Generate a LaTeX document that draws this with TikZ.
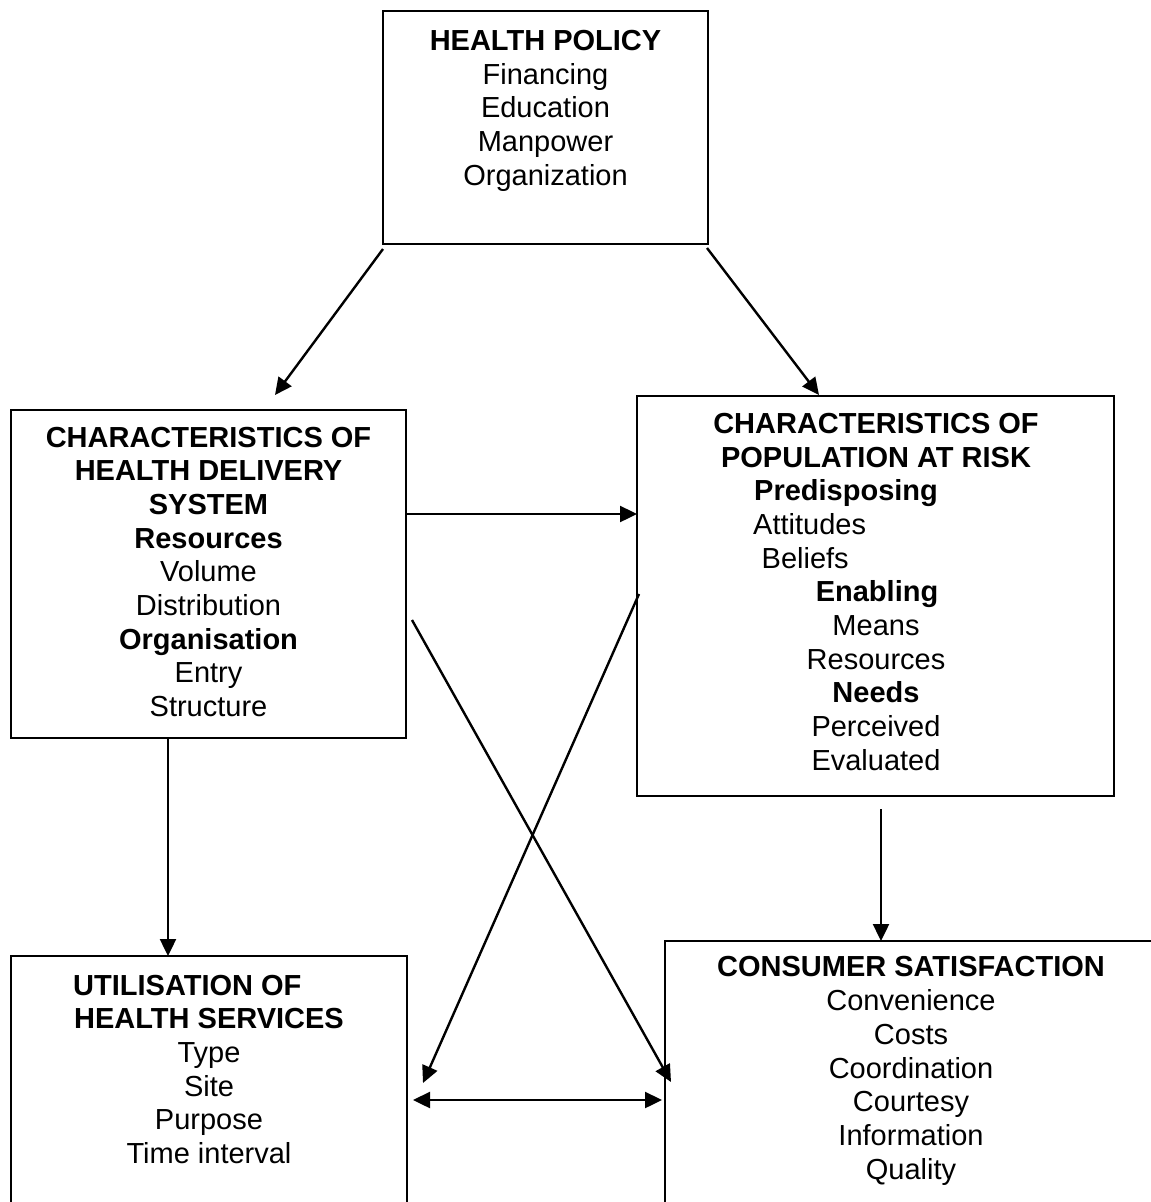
\documentclass[tikz,border=0pt]{standalone}
\usepackage{fontspec}
\setmainfont{Liberation Sans}
\usetikzlibrary{arrows.meta}
\begin{document}
\begin{tikzpicture}[x=1pt,y=-1pt,
  box/.style={draw, line width=2.2pt, inner sep=0pt, outer sep=0pt, rectangle},
  conn/.style={line width=2.4pt, -{Triangle[length=17pt,width=16pt]}},
  dconn/.style={line width=2.4pt, {Triangle[length=17pt,width=16pt]}-{Triangle[length=17pt,width=16pt]}},
  txt/.style={font=\fontsize{29}{34}\selectfont, inner sep=0pt, anchor=base},
  ttl/.style={txt, font=\fontsize{29}{34}\selectfont\bfseries},
]
\useasboundingbox (0,0) rectangle (1151,1202);
\clip (0,0) rectangle (1151,1202);

% boxes
\node[box, minimum width=325pt, minimum height=233pt] (hp) at (545.5,127.5) {};
\node[box, minimum width=395pt, minimum height=328pt] (ld) at (208.5,574) {};
\node[box, minimum width=477pt, minimum height=400pt] (pr) at (875.5,596) {};
\node[box, minimum width=396pt, minimum height=274pt] (ut) at (209,1093) {};
\node[box, minimum width=493pt, minimum height=289pt] (cs) at (911.5,1085.5) {};

% health policy texts
\node[ttl] (hp1) at (545.5,50) {HEALTH POLICY};
\node[txt] (hp2) at (545.5,84) {Financing};
\node[txt] (hp3) at (545.5,117.7) {Education};
\node[txt] (hp4) at (545.5,151.4) {Manpower};
\node[txt] (hp5) at (545.5,185.1) {Organization};

% left delivery system texts
\node[ttl] (ld1) at (208.5,447) {CHARACTERISTICS OF};
\node[ttl] (ld2) at (208.5,480.7) {HEALTH DELIVERY};
\node[ttl] (ld3) at (208.5,514.4) {SYSTEM};
\node[ttl] (ld4) at (208.5,548.1) {Resources};
\node[txt] (ld5) at (208.5,581.8) {Volume};
\node[txt] (ld6) at (208.5,615.5) {Distribution};
\node[ttl] (ld7) at (208.5,649.2) {Organisation};
\node[txt] (ld8) at (208.5,682.9) {Entry};
\node[txt] (ld9) at (208.5,716.6) {Structure};

% population at risk texts
\node[ttl] (pr1) at (876,433.3) {CHARACTERISTICS OF};
\node[ttl] (pr2) at (876,467) {POPULATION AT RISK};
\node[ttl, anchor=base west] (pr3) at (754,500.7) {Predisposing};
\node[txt, anchor=base west] (pr4) at (753,534.4) {Attitudes};
\node[txt, anchor=base west] (pr5) at (761.5,568.1) {Beliefs};
\node[ttl] (pr6) at (877,601.8) {Enabling};
\node[txt] (pr7) at (876,635.5) {Means};
\node[txt] (pr8) at (876,669.2) {Resources};
\node[ttl] (pr9) at (876,702.9) {Needs};
\node[txt] (pr10) at (876,736.6) {Perceived};
\node[txt] (pr11) at (876,770.3) {Evaluated};

% utilisation texts
\node[ttl, anchor=base west] (ut1) at (73,995) {UTILISATION OF};
\node[ttl] (ut2) at (209,1028.7) {HEALTH SERVICES};
\node[txt] (ut3) at (209,1062.4) {Type};
\node[txt] (ut4) at (209,1096.1) {Site};
\node[txt] (ut5) at (209,1129.8) {Purpose};
\node[txt] (ut6) at (209,1163.5) {Time interval};

% consumer satisfaction texts
\node[ttl] (cs1) at (911,976.7) {CONSUMER SATISFACTION};
\node[txt] (cs2) at (911,1010.5) {Convenience};
\node[txt] (cs3) at (911,1044.3) {Costs};
\node[txt] (cs4) at (911,1078.1) {Coordination};
\node[txt] (cs5) at (911,1111.9) {Courtesy};
\node[txt] (cs6) at (911,1145.7) {Information};
\node[txt] (cs7) at (911,1179.5) {Quality};

% connector end points
\coordinate (a1s) at (383,249);
\coordinate (a1e) at (275,395);
\coordinate (a2s) at (707,248);
\coordinate (a2e) at (819,395);
\coordinate (c3) at (0,514);
\coordinate (a4s) at (639,594);
\coordinate (a4e) at (423,1083);
\coordinate (a5s) at (412,620);
\coordinate (a5e) at (671,1082);
\coordinate (c6) at (168,0);
\coordinate (a7s) at (881,809);
\coordinate (a8s) at (413,1100);
\coordinate (a8e) at (662,1100);

% connectors
\draw[conn] (a1s) -- (a1e);
\draw[conn] (a2s) -- (a2e);
\draw[conn] (ld.east |- c3) -- (pr.west |- c3);
\draw[conn] (a4s) -- (a4e);
\draw[conn] (a5s) -- (a5e);
\draw[conn] (ld.south -| c6) -- (ut.north -| c6);
\draw[conn] (a7s) -- (cs.north -| a7s);
\draw[dconn] (a8s) -- (a8e);
\end{tikzpicture}
\end{document}
